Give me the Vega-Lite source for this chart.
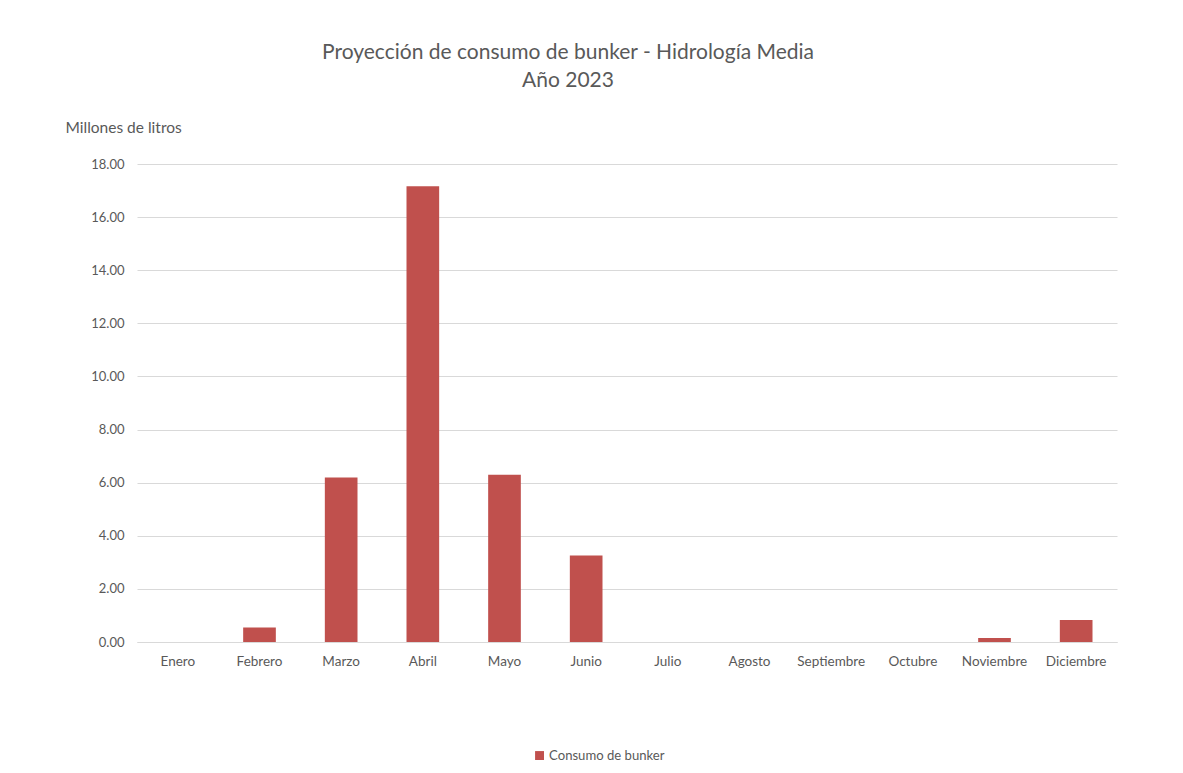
{
  "$schema": "https://vega.github.io/schema/vega-lite/v6.json",
  "width": 980,
  "height": 478,
  "autosize": {"type": "none"},
  "padding": {"left": 137, "top": 164, "right": 66, "bottom": 131},
  "background": "white",
  "title": {
    "text": ["Proyección de consumo de bunker - Hidrología Media", "Año 2023"],
    "anchor": "middle",
    "frame": "group",
    "dx": -59,
    "fontSize": 21,
    "font": "Lato",
    "fontWeight": "normal",
    "color": "#595959",
    "lineHeight": 28,
    "offset": 29
  },
  "data": {
    "values": [
      {"mes": "Enero", "valor": 0, "serie": "Consumo de bunker"},
      {"mes": "Febrero", "valor": 0.55, "serie": "Consumo de bunker"},
      {"mes": "Marzo", "valor": 6.19, "serie": "Consumo de bunker"},
      {"mes": "Abril", "valor": 17.16, "serie": "Consumo de bunker"},
      {"mes": "Mayo", "valor": 6.30, "serie": "Consumo de bunker"},
      {"mes": "Junio", "valor": 3.26, "serie": "Consumo de bunker"},
      {"mes": "Julio", "valor": 0, "serie": "Consumo de bunker"},
      {"mes": "Agosto", "valor": 0, "serie": "Consumo de bunker"},
      {"mes": "Septiembre", "valor": 0, "serie": "Consumo de bunker"},
      {"mes": "Octubre", "valor": 0, "serie": "Consumo de bunker"},
      {"mes": "Noviembre", "valor": 0.15, "serie": "Consumo de bunker"},
      {"mes": "Diciembre", "valor": 0.83, "serie": "Consumo de bunker"}
    ]
  },
  "mark": {"type": "bar"},
  "encoding": {
    "x": {
      "field": "mes",
      "type": "nominal",
      "sort": null,
      "scale": {"paddingInner": 0.6, "paddingOuter": 0.3},
      "axis": {
        "title": null,
        "labelAngle": 0,
        "ticks": false,
        "domainColor": "#d9d9d9",
        "labelColor": "#595959",
        "labelFont": "Lato",
        "labelFontSize": 13.5,
        "labelPadding": 12
      }
    },
    "y": {
      "field": "valor",
      "type": "quantitative",
      "scale": {"domain": [0, 18], "nice": false},
      "axis": {
        "title": "Millones de litros",
        "titleAngle": 0,
        "titleAlign": "left",
        "titleBaseline": "alphabetic",
        "titleX": -72,
        "titleY": -32,
        "titleFont": "Lato",
        "titleFontSize": 15.5,
        "titleFontWeight": "normal",
        "titleColor": "#595959",
        "values": [0, 2, 4, 6, 8, 10, 12, 14, 16, 18],
        "format": ".2f",
        "ticks": false,
        "domain": false,
        "gridColor": "#d9d9d9",
        "labelColor": "#595959",
        "labelFont": "Lato",
        "labelFontSize": 13,
        "labelPadding": 13
      }
    },
    "color": {
      "field": "serie",
      "type": "nominal",
      "scale": {"range": ["#C0504D"]},
      "legend": {
        "title": null,
        "orient": "none",
        "legendX": 396,
        "legendY": 585,
        "symbolType": "square",
        "symbolSize": 80,
        "symbolStrokeWidth": 0,
        "symbolOpacity": 1,
        "labelFont": "Lato",
        "labelFontSize": 13.1,
        "labelColor": "#595959",
        "labelOffset": 3
      }
    }
  },
  "config": {
    "view": {"stroke": null}
  }
}
